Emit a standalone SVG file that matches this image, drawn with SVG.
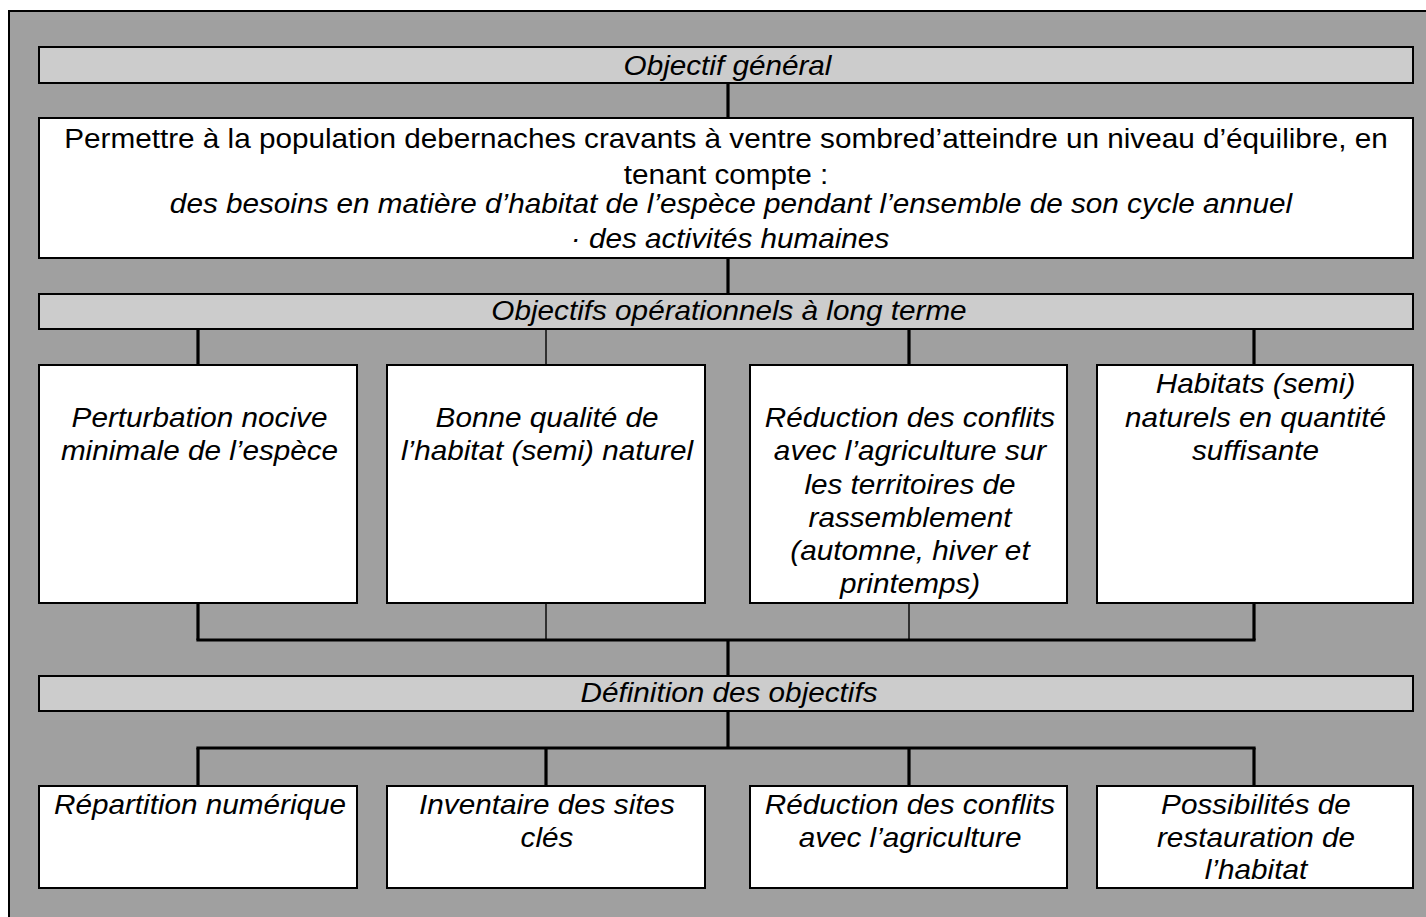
<svg xmlns="http://www.w3.org/2000/svg" width="1426" height="917" viewBox="0 0 1426 917">
<style>
.bg{fill:#a0a0a0;stroke:#000;stroke-width:2}
.hdr{fill:#cccccc;stroke:#000;stroke-width:2}
.box{fill:#fff;stroke:#000;stroke-width:2}
.t{font-family:"Liberation Sans",Arial,sans-serif;font-size:27.5px;fill:#000;text-anchor:middle}
.i{font-style:italic}
.thick{stroke:#000;stroke-width:3.2;fill:none}
.thin{stroke:#000;stroke-width:1.4;fill:none}
</style>
<rect class="bg" x="9" y="11" width="1430" height="920"/>
<g id="connectors">
<line class="thick" x1="728" y1="83" x2="728" y2="118"/>
<line class="thick" x1="728" y1="258" x2="728" y2="294"/>
<line class="thick" x1="198" y1="329" x2="198" y2="365"/>
<line class="thin" x1="546" y1="329" x2="546" y2="365"/>
<line class="thick" x1="909" y1="329" x2="909" y2="365"/>
<line class="thick" x1="1254" y1="329" x2="1254" y2="365"/>
<line class="thick" x1="198" y1="603" x2="198" y2="640"/>
<line class="thin" x1="546" y1="603" x2="546" y2="640"/>
<line class="thin" x1="909" y1="603" x2="909" y2="640"/>
<line class="thick" x1="1254" y1="603" x2="1254" y2="640"/>
<polyline class="thick" points="196.4,640 1255.6,640"/>
<line class="thick" x1="728" y1="640" x2="728" y2="676"/>
<line class="thick" x1="728" y1="711" x2="728" y2="748"/>
<polyline class="thick" points="196.4,748 1255.6,748"/>
<line class="thick" x1="198" y1="748" x2="198" y2="786"/>
<line class="thick" x1="546" y1="748" x2="546" y2="786"/>
<line class="thick" x1="909" y1="748" x2="909" y2="786"/>
<line class="thick" x1="1254" y1="748" x2="1254" y2="786"/>
</g>
<g id="hdr-general">
<rect class="hdr" x="39" y="47" width="1374" height="36"/>
<text class="t i" transform="translate(727.5 0) scale(1.08 1)" y="75">Objectif général</text>
</g>
<g id="main-goal">
<rect class="box" x="39" y="118" width="1374" height="140"/>
<text class="t" transform="translate(726 0) scale(1.08 1)" y="148">Permettre à la population debernaches cravants à ventre sombred’atteindre un niveau d’équilibre, en</text>
<text class="t" transform="translate(726 0) scale(1.08 1)" y="184">tenant compte :</text>
<text class="t i" transform="translate(731 0) scale(1.08 1)" y="213">des besoins en matière d’habitat de l’espèce pendant l’ensemble de son cycle annuel</text>
<text class="t i" transform="translate(730 0) scale(1.08 1)" y="248">· des activités humaines</text>
</g>
<g id="hdr-longterm">
<rect class="hdr" x="39" y="294" width="1374" height="35"/>
<text class="t i" transform="translate(729 0) scale(1.08 1)" y="320.5">Objectifs opérationnels à long terme</text>
</g>
<g id="lt1">
<rect class="box" x="39" y="365" width="318" height="238"/>
<text class="t i" transform="translate(199.5 0) scale(1.08 1)" y="427">Perturbation nocive</text>
<text class="t i" transform="translate(199.5 0) scale(1.08 1)" y="460.5">minimale de l’espèce</text>
</g>
<g id="lt2">
<rect class="box" x="387" y="365" width="318" height="238"/>
<text class="t i" transform="translate(547 0) scale(1.08 1)" y="427">Bonne qualité de</text>
<text class="t i" transform="translate(547 0) scale(1.08 1)" y="460.5">l’habitat (semi) naturel</text>
</g>
<g id="lt3">
<rect class="box" x="750" y="365" width="317" height="238"/>
<text class="t i" transform="translate(910 0) scale(1.08 1)" y="427">Réduction des conflits</text>
<text class="t i" transform="translate(910 0) scale(1.08 1)" y="460.5">avec l’agriculture sur</text>
<text class="t i" transform="translate(910 0) scale(1.08 1)" y="494">les territoires de</text>
<text class="t i" transform="translate(910 0) scale(1.08 1)" y="527">rassemblement</text>
<text class="t i" transform="translate(910 0) scale(1.08 1)" y="560">(automne, hiver et</text>
<text class="t i" transform="translate(910 0) scale(1.08 1)" y="593.5">printemps)</text>
</g>
<g id="lt4">
<rect class="box" x="1097" y="365" width="316" height="238"/>
<text class="t i" transform="translate(1255.5 0) scale(1.08 1)" y="393">Habitats (semi)</text>
<text class="t i" transform="translate(1255.5 0) scale(1.08 1)" y="427">naturels en quantité</text>
<text class="t i" transform="translate(1255.5 0) scale(1.08 1)" y="460.5">suffisante</text>
</g>
<g id="hdr-definition">
<rect class="hdr" x="39" y="676" width="1374" height="35"/>
<text class="t i" transform="translate(729 0) scale(1.08 1)" y="702.5">Définition des objectifs</text>
</g>
<g id="d1">
<rect class="box" x="39" y="786" width="318" height="102"/>
<text class="t i" transform="translate(200 0) scale(1.08 1)" y="814.5">Répartition numérique</text>
</g>
<g id="d2">
<rect class="box" x="387" y="786" width="318" height="102"/>
<text class="t i" transform="translate(547 0) scale(1.08 1)" y="814.5">Inventaire des sites</text>
<text class="t i" transform="translate(547 0) scale(1.08 1)" y="847">clés</text>
</g>
<g id="d3">
<rect class="box" x="750" y="786" width="317" height="102"/>
<text class="t i" transform="translate(910 0) scale(1.08 1)" y="814.5">Réduction des conflits</text>
<text class="t i" transform="translate(910 0) scale(1.08 1)" y="847">avec l’agriculture</text>
</g>
<g id="d4">
<rect class="box" x="1097" y="786" width="316" height="102"/>
<text class="t i" transform="translate(1256 0) scale(1.08 1)" y="814.5">Possibilités de</text>
<text class="t i" transform="translate(1256 0) scale(1.08 1)" y="847">restauration de</text>
<text class="t i" transform="translate(1256 0) scale(1.08 1)" y="879">l’habitat</text>
</g>
</svg>
